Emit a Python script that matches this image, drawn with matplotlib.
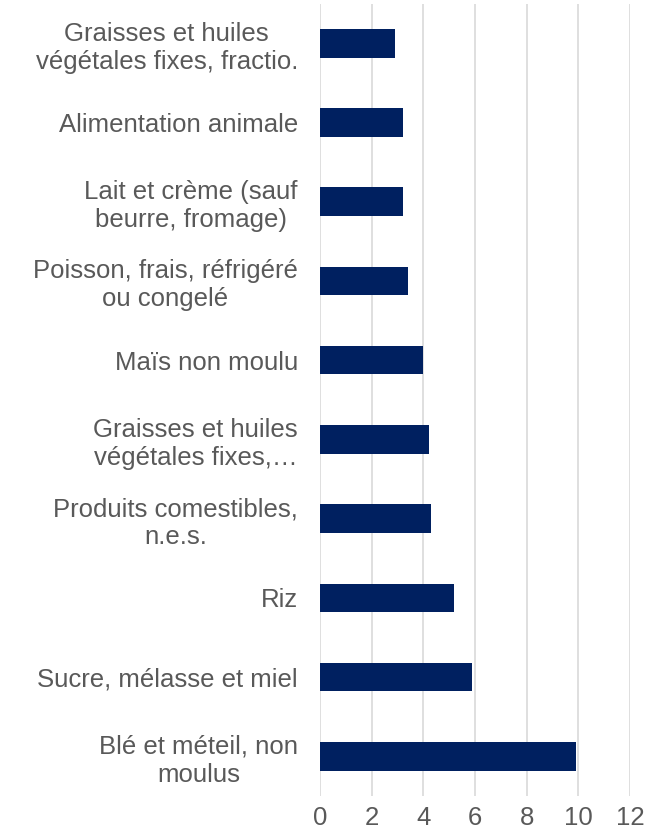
import matplotlib.pyplot as plt
import numpy as np

plt.rcParams['font.family'] = ['Liberation Sans', 'DejaVu Sans']

# categories top to bottom, as in the picture
categories = [
    "Graisses et huiles\nvégétales fixes, fractio.",
    "Alimentation animale",
    "Lait et crème (sauf\nbeurre, fromage)",
    "Poisson, frais, réfrigéré\nou congelé",
    "Maïs non moulu",
    "Graisses et huiles\nvégétales fixes,…",
    "Produits comestibles,\nn.e.s.",
    "Riz",
    "Sucre, mélasse et miel",
    "Blé et méteil, non\nmoulus",
]
values = [2.9, 3.2, 3.2, 3.4, 4.0, 4.2, 4.3, 5.2, 5.9, 9.9]
xticks = [0, 2, 4, 6, 8, 10, 12]

fig = plt.figure(figsize=(6.48, 8.34), dpi=100)
ax = fig.add_axes([0.494, 0.0456, 0.478, 0.950])

y = np.arange(len(categories))
ax.barh(y, values, height=0.36, color="#002060", zorder=3)

ax.set_ylim(len(categories) - 0.5, -0.5)
ax.set_xlim(0, 12)
ax.set_xticks(xticks)
ax.set_xticklabels([str(t) for t in xticks])
ax.set_yticks(y)
ax.set_yticklabels(categories, multialignment="center", linespacing=1.2)

ax.grid(axis="x", color="#D9D9D9", linewidth=1.2, zorder=0)
for s in ax.spines.values():
    s.set_visible(False)
ax.tick_params(axis="both", length=0, labelsize=18.5, labelcolor="#595959")
ax.tick_params(axis="y", pad=16)
ax.tick_params(axis="x", pad=7)

fig.savefig("out.png", dpi=100)
